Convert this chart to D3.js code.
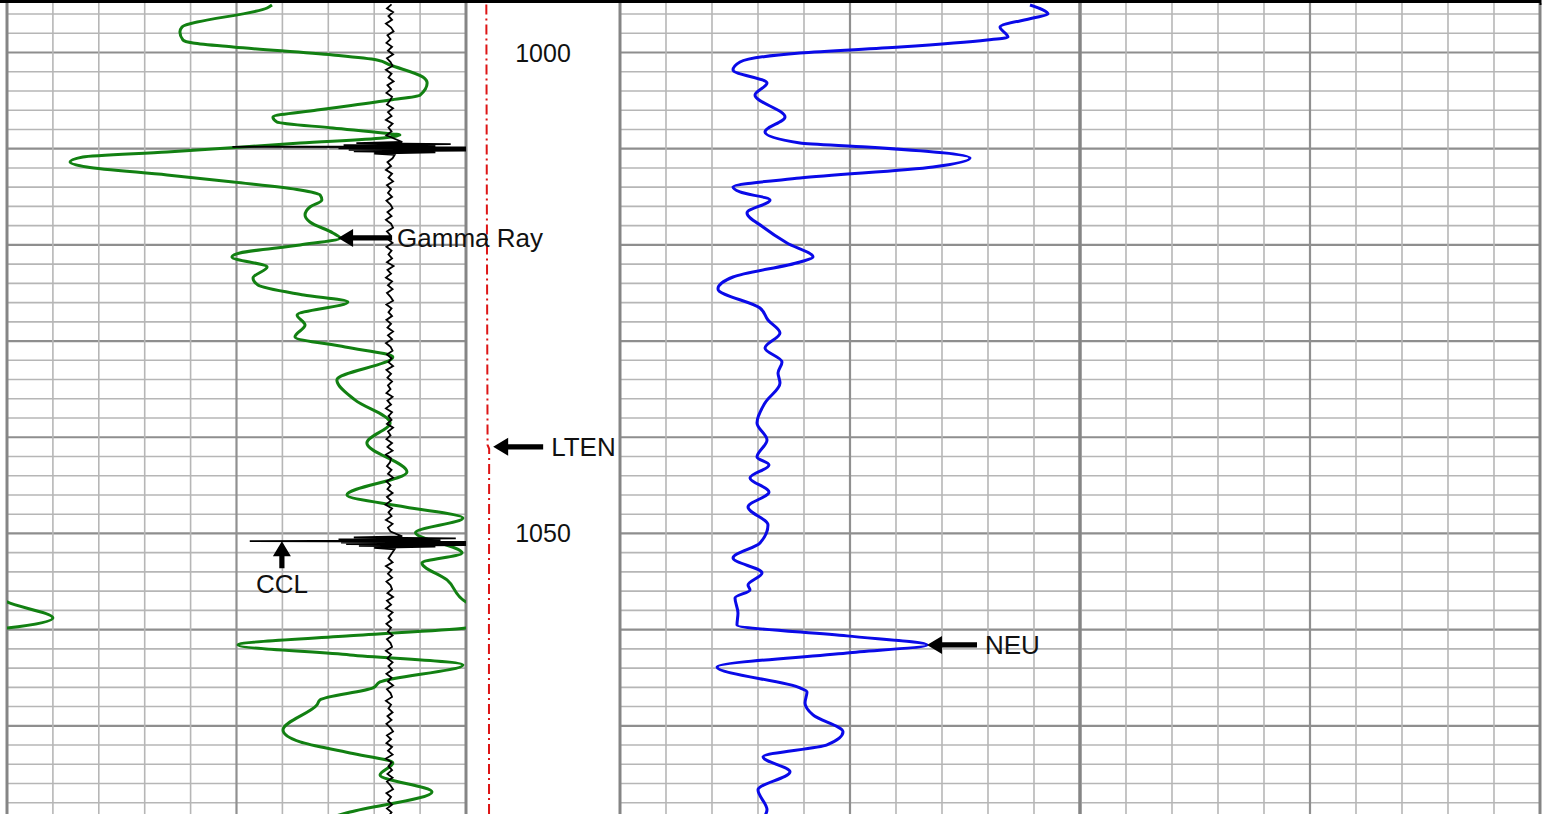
<!DOCTYPE html>
<html>
<head>
<meta charset="utf-8">
<script src="https://cdn.jsdelivr.net/npm/d3@7"></script>
<style>
  body { margin: 0; background: #fff; }
  svg { display: block; font-family: "Liberation Sans", Arial, sans-serif; }
</style>
</head>
<body>
<div class="graph"></div>
<script>
'use strict'

// Gamma Ray (API) against depth
const grDepth = [995.06, 995.37, 997.35, 997.87, 998.70, 999.01, 999.43, 1000.26, 1000.78, 1001.30,
  1002.55, 1003.17, 1004.42, 1004.94, 1005.98, 1006.70, 1007.22, 1007.85, 1008.37, 1008.58,
  1008.89, 1009.41, 1010.34, 1010.86, 1011.38, 1011.90, 1012.73, 1013.46, 1014.29, 1014.81,
  1015.33, 1016.06, 1016.89, 1017.62, 1018.76, 1019.28, 1020.01, 1020.84, 1021.26, 1022.30,
  1023.44, 1024.17, 1025.21, 1025.94, 1027.29, 1028.33, 1029.57, 1030.61, 1031.65, 1034.04,
  1036.12, 1038.51, 1040.59, 1043.61, 1046.00, 1047.25, 1048.39, 1049.90, 1052.03, 1053.07,
  1054.83, 1057.12, 1058.78, 1059.82, 1060.65, 1061.59, 1062.63, 1063.67, 1065.44, 1066.06,
  1067.31, 1067.83, 1070.43, 1071.68, 1072.82, 1073.86, 1075.11, 1076.88, 1078.96, 1079.60]
const grValue = [86.6, 85.0, 57.2, 56.5, 57.5, 60.8, 73.9, 106.5, 120.9, 125.2,
  135.9, 137.3, 135.0, 125.2, 101.3, 86.9, 88.2, 106.5, 122.9, 128.4,
  122.9, 95.8, 52.3, 24.8, 20.6, 26.1, 52.3, 73.9, 95.8, 102.3,
  102.9, 99.0, 97.4, 99.0, 106.5, 108.8, 95.8, 76.1, 73.5, 85.0,
  80.4, 82.0, 97.0, 111.4, 94.8, 97.4, 94.1, 110.5, 126.1, 107.8,
  113.7, 125.2, 117.6, 130.7, 111.1, 130.1, 149.0, 133.5, 148.7, 135.6,
  143.8, 150.0, 165.0, 150.0, 112.0, 75.5, 112.1, 149.0, 121.9, 119.6,
  102.3, 101.3, 90.2, 95.8, 112.1, 126.1, 121.9, 138.9, 112.1, 105.0]

// Neutron (cps) against depth
const neuDepth = [995.06, 996.00, 996.41, 997.35, 998.39, 998.70, 999.43, 1000.05, 1000.99, 1001.82,
  1003.17, 1004.42, 1006.70, 1008.26, 1009.41, 1009.82, 1010.97, 1011.90, 1013.05, 1013.98,
  1014.50, 1015.33, 1016.68, 1018.14, 1019.80, 1021.26, 1021.78, 1023.34, 1024.58, 1026.56,
  1027.81, 1029.16, 1030.72, 1032.17, 1033.32, 1034.36, 1036.43, 1038.51, 1040.28, 1042.05,
  1042.88, 1044.23, 1045.69, 1047.25, 1049.12, 1050.99, 1052.55, 1054.11, 1055.36, 1055.87,
  1056.71, 1058.27, 1059.51, 1060.65, 1061.59, 1062.43, 1063.88, 1066.06, 1066.48, 1067.62,
  1068.87, 1070.63, 1071.99, 1073.23, 1074.79, 1076.66, 1078.74, 1079.60]
const neuValue = [891.3, 930.5, 897.9, 826.1, 843.5, 797.9, 608.7, 391.3, 260.9, 245.7,
  319.6, 293.5, 358.7, 315.2, 391.3, 537.0, 760.9, 680.5, 391.3, 245.7,
  260.9, 326.1, 276.1, 310.9, 363.0, 419.6, 391.3, 245.7, 213.0, 304.3,
  321.7, 347.8, 315.2, 352.2, 343.5, 347.8, 315.2, 297.8, 319.6, 297.8,
  323.9, 282.6, 323.9, 278.3, 321.7, 304.3, 245.7, 308.7, 278.3, 282.6,
  250.0, 256.5, 254.3, 493.5, 667.4, 493.5, 210.9, 391.3, 406.5, 402.2,
  419.6, 484.8, 450.0, 310.9, 369.6, 300.0, 319.6, 312.0]

// CCL, sampled every 0.4 ft from 995.0 ft
const cclStart = 995.0
const cclStep = 0.4
const cclValue = [
  0.04, -0.05, 0.07, -0.02, 0.05, -0.07, 0.03, 0.08, -0.04, 0.02,
  -0.06, 0.05, -0.03, 0.07, -0.05, 0.02, 0.06, -0.07, 0.04, -0.02,
  0.08, -0.04, 0.03, -0.06, 0.05, 0.01, -0.05, 0.07, -0.03, 0.04,
  -0.07, 0.06, -0.02, 0.04, -0.06, 0.08, -0.03, 0.05, -0.05, 0.02,
  0.06, -0.04, 0.03, -0.07, 0.05, -0.02, 0.07, -0.05, 0.03, -0.03,
  0.05, -0.06, 0.02, 0.06, -0.04, 0.04, -0.07, 0.03, 0.07, -0.05,
  0.02, -0.03, 0.06, -0.06, 0.04, -0.02, 0.05, -0.05, 0.08, -0.04,
  0.03, -0.07, 0.05, -0.03, 0.06, -0.05, 0.02, 0.07, -0.06, 0.04,
  -0.02, 0.05, -0.06, 0.03, -0.04, 0.07, -0.03, 0.05, -0.07, 0.02,
  0.06, -0.05, 0.04, -0.02, 0.07, -0.06, 0.03, -0.04, 0.05, -0.03,
  0.02, -0.06, 0.06, -0.04, 0.03, -0.07, 0.05, -0.02, 0.04, -0.05,
  0.07, -0.03, 0.02, -0.06, 0.05, -0.04, 0.06, -0.07, 0.03, 0.01,
  -0.05, 0.04, -0.03, 0.07, -0.06, 0.02, -0.04, 0.06, -0.05, 0.03,
  -0.08, 0.05, -0.02, 0.04, -0.07, 0.06, -0.03, 0.02, -0.06, 0.05,
  -0.04, 0.07, -0.05, 0.03, -0.02, 0.06, -0.07, 0.04, -0.03, 0.05,
  -0.06, 0.02, 0.05, -0.04, 0.07, -0.05, 0.03, -0.07, 0.06, -0.02,
  0.04, -0.06, 0.03, -0.03, 0.06, -0.05, 0.02, 0.05, -0.07, 0.03,
  -0.04, 0.06, -0.02, 0.05, -0.06, 0.04, -0.03, 0.07, -0.05, 0.02,
  0.05, -0.07, 0.03, -0.02, 0.06, -0.04, 0.04, -0.06, 0.02, 0.07,
  -0.05, 0.03, -0.06, 0.05, -0.03, 0.06, -0.07, 0.04, -0.02, 0.05,
  -0.04, 0.06, -0.05, 0.02, 0.07, -0.06, 0.03, -0.03, 0.05, -0.05,
  0.04, -0.02, 0.06, -0.07, 0.03, -0.04, 0.05, -0.03, 0.07, -0.06]
// collar kicks
const cclKickDepth = [1009.30, 1009.42, 1009.52, 1009.62, 1009.72, 1009.80, 1009.88, 1009.96,
  1010.04, 1010.12, 1010.20, 1010.28, 1010.38, 1010.50, 1010.65,
  1050.30, 1050.42, 1050.52, 1050.62, 1050.72, 1050.80, 1050.88, 1050.96,
  1051.04, 1051.12, 1051.20, 1051.28, 1051.38, 1051.50, 1051.65]
const cclKickValue = [0.25, -0.65, 1.2, -0.9, 0.9, -3.08, 2.2, -1.0,
  2.0, -0.8, 1.7, -0.7, 0.9, -0.3, 0.1,
  0.25, -0.7, 1.3, -1.0, 1.0, -2.74, 2.2, -0.95,
  2.0, -0.85, 1.8, -0.6, 0.9, -0.3, 0.1]

// line tension (lb)
const ltenDepth = [995.0, 1010.0, 1030.0, 1040.8, 1041.2, 1060.0, 1079.6]
const ltenValue = [660, 672, 690, 700, 752, 745, 748]

const depthLabels = [1000, 1050]

const width = 1553, height = 814

const svg = d3.select('.graph').append('svg')
  .attr('width', width)
  .attr('height', height)

const yScale = d3.scaleLinear().domain([994.54, 1079.17]).range([0, height])
const grX = d3.scaleLinear().domain([0, 150]).range([7, 466])
const cclX = d3.scaleLinear().domain([-7.5, 1.5]).range([7, 466])
const ltenX = d3.scaleLinear().domain([0, 5000]).range([466, 620])
const neuX = d3.scaleLinear().domain([0, 1000]).range([620, 1080])
const spareX = d3.scaleLinear().domain([0, 1000]).range([1080, 1540])

// grid for one track
function drawGrid(xs, ticks) {
  const g = svg.append('g')
  const [x0, x1] = xs.range()
  const depths = d3.range(996, 1080, 2)
  g.selectAll('line.h').data(depths).join('line')
    .attr('x1', x0).attr('x2', x1)
    .attr('y1', d => yScale(d)).attr('y2', d => yScale(d))
    .attr('stroke', d => d % 10 === 0 ? '#8e8e8e' : '#b6b6b6')
    .attr('stroke-width', d => d % 10 === 0 ? 2.2 : 1.6)
  g.selectAll('line.v').data(ticks).join('line')
    .attr('x1', d => xs(d)).attr('x2', d => xs(d))
    .attr('y1', 3).attr('y2', height)
    .attr('stroke', (d, i) => (i === 0 || i === ticks.length - 1) ? '#858585' : (i === 5 ? '#909090' : '#b6b6b6'))
    .attr('stroke-width', (d, i) => (i === 0 || i === ticks.length - 1) ? 3 : (i === 5 ? 2.2 : 1.6))
}

drawGrid(grX, d3.range(0, 151, 15))
drawGrid(neuX, d3.range(0, 1001, 100))
drawGrid(spareX, d3.range(0, 1001, 100))

// top border
svg.append('line').attr('x1', 0).attr('x2', 1541).attr('y1', 1.5).attr('y2', 1.5)
  .attr('stroke', '#000').attr('stroke-width', 3)
svg.append('line').attr('x1', 1540.5).attr('x2', 1540.5).attr('y1', 0).attr('y2', 5)
  .attr('stroke', '#000').attr('stroke-width', 2)

// depth labels
svg.selectAll('text.depth').data(depthLabels).join('text')
  .attr('x', 543).attr('y', d => yScale(d))
  .attr('text-anchor', 'middle').attr('dominant-baseline', 'central')
  .style('font-size', '25px').attr('fill', '#111')
  .text(d => d)

// clip for the left track
svg.append('clipPath').attr('id', 'clipLeft')
  .append('rect').attr('x', 7).attr('y', 3).attr('width', 459).attr('height', height)

const gr = grDepth.map((d, i) => ({ d, v: grValue[i] }))
const grLine = d3.line().curve(d3.curveMonotoneY).x(p => grX(p.v)).y(p => yScale(p.d))
const grWrap = d3.line().curve(d3.curveMonotoneY).x(p => grX(p.v - 150)).y(p => yScale(p.d))

const left = svg.append('g').attr('clip-path', 'url(#clipLeft)')
left.append('path').datum(gr).attr('d', grLine)
  .attr('fill', 'none').attr('stroke', '#128012').attr('stroke-width', 3)
// backup (wrapped) trace
left.append('path').datum(gr).attr('d', grWrap)
  .attr('fill', 'none').attr('stroke', '#128012').attr('stroke-width', 3)

// regular samples, with the kick readings taking over where they exist
const kicks = cclKickDepth.map((d, i) => ({ d, v: cclKickValue[i] }))
const inKick = d => kicks.some(k => Math.abs(k.d - d) < 0.3)
const ccl = cclValue.map((v, i) => ({ d: cclStart + i * cclStep, v }))
  .filter(p => !inKick(p.d))
  .concat(kicks)
  .sort((a, b) => a.d - b.d)
left.append('path').datum(ccl)
  .attr('d', d3.line().x(p => cclX(p.v)).y(p => yScale(p.d)))
  .attr('fill', 'none').attr('stroke', '#000').attr('stroke-width', 1.8)
  .attr('stroke-linejoin', 'miter')

const lten = ltenDepth.map((d, i) => ({ d, v: ltenValue[i] }))
svg.append('path').datum(lten)
  .attr('d', d3.line().x(p => ltenX(p.v)).y(p => yScale(p.d)))
  .attr('fill', 'none').attr('stroke', '#dd1414').attr('stroke-width', 2)
  .attr('stroke-dasharray', '10,4,2,4')

const neu = neuDepth.map((d, i) => ({ d, v: neuValue[i] }))
svg.append('path').datum(neu)
  .attr('d', d3.line().curve(d3.curveMonotoneY).x(p => neuX(p.v)).y(p => yScale(p.d)))
  .attr('fill', 'none').attr('stroke', '#0a0ae8').attr('stroke-width', 3)

// curve name arrows
function arrowPath(x, y, dir, len) {
  const hl = 15, hw = 9, st = 2.6
  const pts = [[0, 0], [hl, -hw], [hl, -st], [len, -st], [len, st], [hl, st], [hl, hw]]
  const p = dir === 'up' ? pts.map(([a, b]) => [x + b, y + a]) : pts.map(([a, b]) => [x + a, y + b])
  return 'M' + p.map(q => q.join(',')).join('L') + 'Z'
}

const notes = [
  { label: 'Gamma Ray', x: grX(108.2), y: yScale(1019.28), dir: 'left', len: 54, gap: 5 },
  { label: 'LTEN', x: ltenX(752) + 4, y: yScale(1041.0), dir: 'left', len: 50, gap: 8 },
  { label: 'NEU', x: neuX(667.4), y: yScale(1061.59), dir: 'left', len: 50, gap: 8 },
  { label: 'CCL', x: cclX(-2.11), y: yScale(1050.8), dir: 'up', len: 27, gap: 16 }
]

const ann = svg.append('g')
notes.forEach(n => {
  ann.append('path').attr('d', arrowPath(n.x, n.y, n.dir, n.len)).attr('fill', '#000')
  const t = ann.append('text').style('font-size', '26px').attr('fill', '#111')
    .attr('dominant-baseline', 'central').text(n.label)
  if (n.dir === 'up') {
    t.attr('x', n.x).attr('y', n.y + n.len + n.gap).attr('text-anchor', 'middle')
  } else {
    t.attr('x', n.x + n.len + n.gap).attr('y', n.y)
  }
})
</script>
</body>
</html>
